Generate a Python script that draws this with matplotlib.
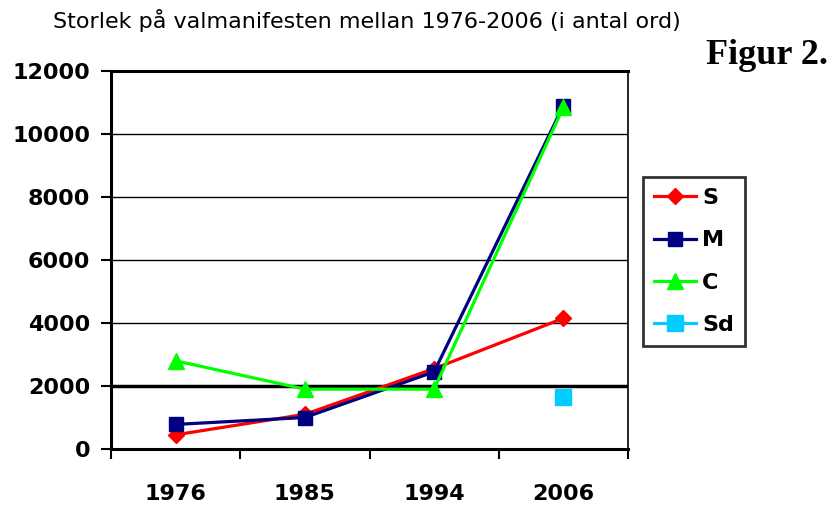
import matplotlib
matplotlib.use("Agg")
import matplotlib.pyplot as plt
import numpy as np

years = ["1976", "1985", "1994", "2006"]
s_vals = [450, 1100, 2550, 4150]
m_vals = [780, 1000, 2450, 10900]
c_vals = [2800, 1900, 1900, 10850]
sd_vals = [np.nan, np.nan, np.nan, 1650]
yticks = [0, 2000, 4000, 6000, 8000, 10000, 12000]

fig = plt.figure(figsize=(8.31, 5.09), dpi=100)
ax = fig.add_axes([111/831, 1-449/509, (628-111)/831, (449-71)/509])

x = np.arange(len(years))
ax.plot(x, s_vals, color="#FF0000", lw=2.3, marker="D", ms=8, label="S", zorder=3)
ax.plot(x, m_vals, color="#000080", lw=2.3, marker="s", ms=10, label="M", zorder=4)
ax.plot(x, c_vals, color="#00FF00", lw=2.3, marker="^", ms=11, label="C", zorder=5)
ax.plot(x, sd_vals, color="#00CCFF", lw=2.3, marker="s", ms=12, label="Sd", zorder=6,
        markeredgecolor="#00CCFF")

ax.set_xlim(-0.5, 3.5)
ax.set_ylim(0, 12000)

for v in yticks[2:-1]:
    ax.axhline(v, color="black", lw=1.0, zorder=1)
ax.axhline(2000, color="black", lw=2.5, zorder=1)

for side in ["left", "bottom", "top"]:
    ax.spines[side].set_linewidth(2.2)
ax.spines["right"].set_linewidth(1.2)

bold = {"family": "DejaVu Sans", "weight": "bold", "size": 16}
ax.set_yticks(yticks)
ax.set_yticklabels([str(v) for v in yticks], fontdict=bold)
ax.tick_params(axis="y", length=7, width=1.5, pad=8)

ax.set_xticks(x)
ax.set_xticklabels(years, fontdict=bold)
ax.tick_params(axis="x", which="major", length=0, pad=25)
ax.set_xticks(np.arange(-0.5, 3.6, 1.0), minor=True)
ax.tick_params(axis="x", which="minor", length=7, width=1.5)

leg = ax.legend(loc="upper left", bbox_to_anchor=(643/831, 1-177/509), bbox_transform=fig.transFigure,
                prop={"family": "DejaVu Sans", "weight": "bold", "size": 16},
                frameon=True, fancybox=False, edgecolor="black", handlelength=1.9,
                handletextpad=0.25, labelspacing=1.0, borderpad=0.5, borderaxespad=0)
leg.get_frame().set_linewidth(2)

fig.text(53/831, 1-20/509, "Storlek på valmanifesten mellan 1976-2006 (i antal ord)",
         family="DejaVu Sans", size=16, ha="left", va="center")
fig.text(828/831, 1-56/509, "Figur 2.", family="Liberation Serif", weight="bold", size=26,
         ha="right", va="center")

fig.savefig("out.png", dpi=100)
